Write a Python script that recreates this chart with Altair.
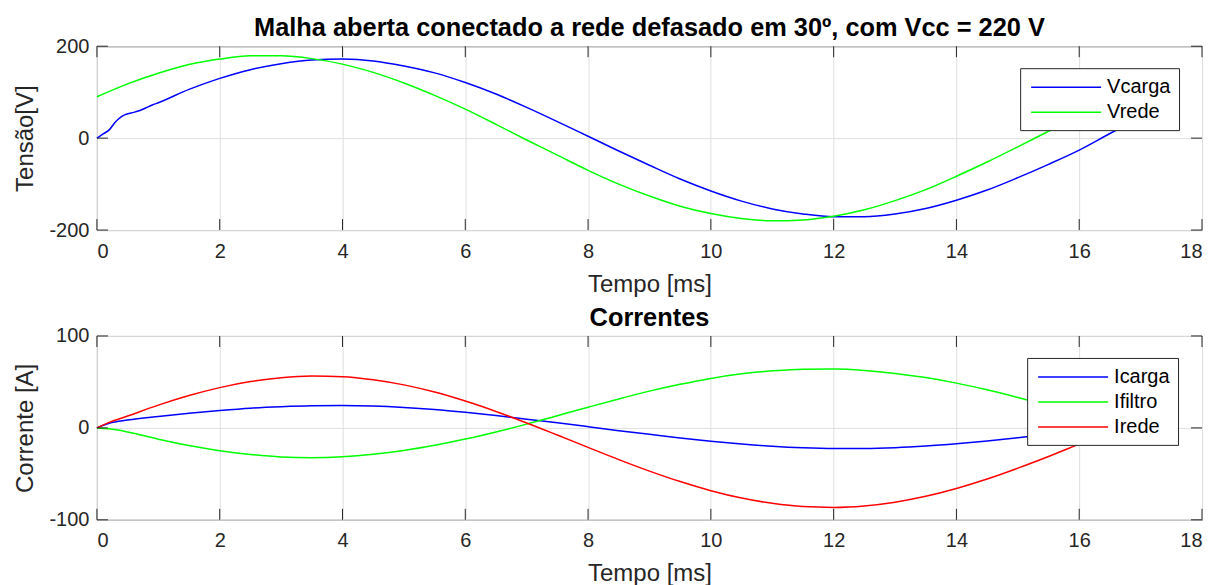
import altair as alt
import pandas as pd

# ---------------- data ----------------
t_vcarga = [0, 0.1, 0.2, 0.3, 0.4, 0.5, 0.6, 0.7, 0.8, 0.9, 1.0, 1.5, 2.0, 2.5, 3.0, 3.5, 4.0,
            4.5, 5.0, 5.5, 6.0, 6.5, 7.0, 7.5, 8.0, 8.5, 9.0, 9.5, 10.0, 10.5, 11.0, 11.5,
            12.0, 12.5, 13.0, 13.5, 14.0, 14.5, 15.0, 15.5, 16.0, 16.5, 16.67]
vcarga = [0, 9, 18, 35, 47, 53, 56, 60, 66, 72, 77, 106, 130, 149, 162, 170, 172,
          168, 157, 142, 121, 96, 67, 36, 4, -28, -59, -89, -115, -137, -154, -165,
          -171, -171, -165, -153, -135, -113, -86, -57, -26, 10, 22]

t_vrede = [0, 0.5, 1.0, 1.5, 2.0, 2.5, 3.0, 3.5, 4.0, 4.5, 5.0, 5.5, 6.0, 6.5, 7.0, 7.5,
           8.0, 8.5, 9.0, 9.5, 10.0, 10.5, 11.0, 11.5, 12.0, 12.5, 13.0, 13.5, 14.0, 14.5,
           15.0, 15.5, 16.0, 16.5, 16.67]
vrede = [90, 118, 141, 160, 172, 179, 179, 173, 161, 143, 120, 93, 63, 30, -4, -37,
         -70, -100, -126, -148, -164, -175, -180, -178, -170, -156, -136, -112, -83, -52,
         -19, 15, 48, 80, 90]

t_corr = [0, 0.2, 0.5, 1.0, 1.5, 2.0, 2.5, 3.0, 3.5, 4.0, 4.5, 5.0, 5.5, 6.0, 6.5, 7.0,
          7.5, 8.0, 8.5, 9.0, 9.5, 10.0, 10.5, 11.0, 11.5, 12.0, 12.5, 13.0, 13.5, 14.0,
          14.5, 15.0, 15.5, 16.0, 16.5, 16.67]
icarga = [0, 5, 8.5, 12.5, 16, 19, 21.5, 23, 24, 24.3, 23.7, 22.2, 20, 17, 13.5, 9.5,
          5.5, 1.3, -3, -7, -11, -14.5, -17.5, -20, -21.7, -22.5, -22.4, -21.5, -19.7, -17.2,
          -14.2, -10.7, -6.9, -2.9, 1.2, 2.5]
ifiltro = [0, -1, -4.4, -12.3, -19.2, -24.8, -28.9, -31.6, -32.4, -31.4, -28.7, -24.6, -19, -12.2, -4.4, 4.1,
           13.3, 22.5, 31.5, 40, 47.4, 53.8, 58.8, 62.1, 63.9, 64, 62.5, 59.3, 54.7, 48.7,
           41.4, 33.1, 24.2, 14.8, 5.5, 2.4]
irede = [0, 6, 12.9, 24.8, 35.2, 43.8, 50.4, 54.6, 56.4, 55.7, 52.4, 46.8, 39, 29.2, 17.9, 5.4,
         -7.8, -21.2, -34.5, -47, -58.4, -68.3, -76.3, -82.1, -85.6, -86.5, -84.9, -80.8, -74.4, -65.9,
         -55.6, -43.8, -31.1, -17.7, -4.3, 0.1]

x_ticks = [0, 2, 4, 6, 8, 10, 12, 14, 16, 18]
v_ticks = [-200, 0, 200]
i_ticks = [-100, 0, 100]

# ---------------- styling ----------------
W, H = 1106, 184
FONT = "Liberation Sans"
AX = "#262626"
TICK = 11


def long_df(series):
    rows = []
    for name, ts, vs in series:
        for t, v in zip(ts, vs):
            rows.append({"t": t, "v": v, "serie": name})
    return pd.DataFrame(rows)


def panel(df, names, colors, ydom, yticks, ytitle, title, lx, ly):
    X = alt.X("t:Q", scale=alt.Scale(domain=[0, 18], nice=False, zero=False),
              axis=alt.Axis(values=x_ticks, title="Tempo [ms]", ticks=False, domain=False,
                            labelPadding=11, titlePadding=11, labelExpr="'' + datum.value"))
    Y = alt.Y("v:Q", scale=alt.Scale(domain=ydom, nice=False, zero=False),
              axis=alt.Axis(values=yticks, title=ytitle, ticks=False, domain=False,
                            labelPadding=8, titlePadding=11, labelExpr="'' + datum.value"))
    lines = alt.Chart(df).mark_line(strokeWidth=1.5, interpolate="monotone").encode(
        x=X, y=Y,
        color=alt.Color("serie:N", scale=alt.Scale(domain=names, range=colors),
                        legend=alt.Legend(title=None, orient="none", legendX=lx, legendY=ly,
                                          fillColor="white", strokeColor=AX, padding=8,
                                          symbolType="M-3.5,0H3.5", symbolSize=400,
                                          symbolOffset=27, labelOffset=30,
                                          symbolStrokeWidth=1.5, labelFontSize=20,
                                          labelFont=FONT, labelColor="black",
                                          rowPadding=4, cornerRadius=0)),
    )
    xt = pd.DataFrame({"t": x_ticks})
    yt = pd.DataFrame({"v": yticks})
    tb = alt.Chart(xt).mark_rule(color=AX, strokeWidth=1).encode(
        x=X, y=alt.value(H), y2=alt.value(H - TICK))
    tt = alt.Chart(xt).mark_rule(color=AX, strokeWidth=1).encode(
        x=X, y=alt.value(0), y2=alt.value(TICK))
    tl = alt.Chart(yt).mark_rule(color=AX, strokeWidth=1).encode(
        y=Y, x=alt.value(0), x2=alt.value(TICK))
    tr = alt.Chart(yt).mark_rule(color=AX, strokeWidth=1).encode(
        y=Y, x=alt.value(W), x2=alt.value(W - TICK))
    return alt.layer(lines, tb, tt, tl, tr).properties(
        width=W, height=H,
        title=alt.TitleParams(title, fontSize=25.4, fontWeight="bold", font=FONT,
                              color="black", offset=-5),
    )


df_v = long_df([("Vcarga", t_vcarga, vcarga), ("Vrede", t_vrede, vrede)])
df_i = long_df([("Icarga", t_corr, icarga), ("Ifiltro", t_corr, ifiltro), ("Irede", t_corr, irede)])

top = panel(df_v, ["Vcarga", "Vrede"], ["#0000ff", "#00ff00"], [-200, 200], v_ticks,
            "Tensão[V]", "Malha aberta conectado a rede defasado em 30º, com Vcc = 220 V", 924, 22)
bottom = panel(df_i, ["Icarga", "Ifiltro", "Irede"], ["#0000ff", "#00ff00", "#ff0000"],
               [-100, 100], i_ticks, "Corrente [A]", "Correntes", 931, 22)

chart = alt.vconcat(top, bottom, spacing=8).resolve_scale(
    color="independent", x="independent", y="independent"
).resolve_legend(color="independent").properties(
    padding={"left": 5, "top": 7, "right": 5, "bottom": 0}
).configure_view(stroke=AX, strokeWidth=1).configure_axis(
    gridColor="#dfdfdf", gridWidth=1, labelFont=FONT, titleFont=FONT,
    labelFontSize=20, titleFontSize=24, titleFontWeight="normal",
    labelColor=AX, titleColor=AX,
)

chart.save("out.html", embed_options={"renderer": "svg", "actions": False})
